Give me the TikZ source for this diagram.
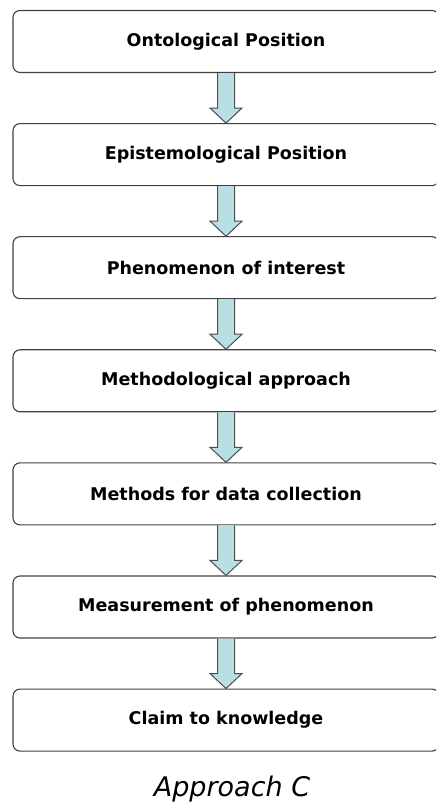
\documentclass[tikz,border=0pt]{standalone}
\usepackage{fontspec}
\setmainfont{DejaVu Sans}
\usetikzlibrary{calc,positioning}
\definecolor{flowfill}{RGB}{184,224,228}

\begin{document}
\begin{tikzpicture}[x=1pt,y=1pt,
  stage/.style={draw=black!75, line width=1.1pt, rounded corners=7pt, minimum width=426pt, minimum height=62pt, inner sep=0pt, font=\bfseries\fontsize{17.5}{20}\selectfont},
  flow/.style={draw=black!70, line width=1pt, fill=flowfill, line join=miter}]
\useasboundingbox (0,0) rectangle (436,805);
\clip (0,0) rectangle (436,805);
\node [stage] (ont) at (226,763.5) {Ontological Position};
\node [stage, below=50pt of ont] (epi) {Epistemological Position};
\node [stage, below=50pt of epi] (phe) {Phenomenon of interest};
\node [stage, below=50pt of phe] (met) {Methodological approach};
\node [stage, below=50pt of met] (dat) {Methods for data collection};
\node [stage, below=50pt of dat] (mea) {Measurement of phenomenon};
\node [stage, below=50pt of mea] (cla) {Claim to knowledge};
\node [font=\itshape\fontsize{27}{30}\selectfont] (cap) at (232,16) {Approach C};
\foreach\a/\b in {ont/epi,epi/phe,phe/met,met/dat,dat/mea,mea/cla}
  \draw [flow] ($(\a.south)+(-8.5,0)$) -- ($(\b.north)+(-8.5,15)$) -- ($(\b.north)+(-16,15)$) -- (\b.north)
    -- ($(\b.north)+(16,15)$) -- ($(\b.north)+(8.5,15)$) -- ($(\a.south)+(8.5,0)$);
\end{tikzpicture}
\end{document}
